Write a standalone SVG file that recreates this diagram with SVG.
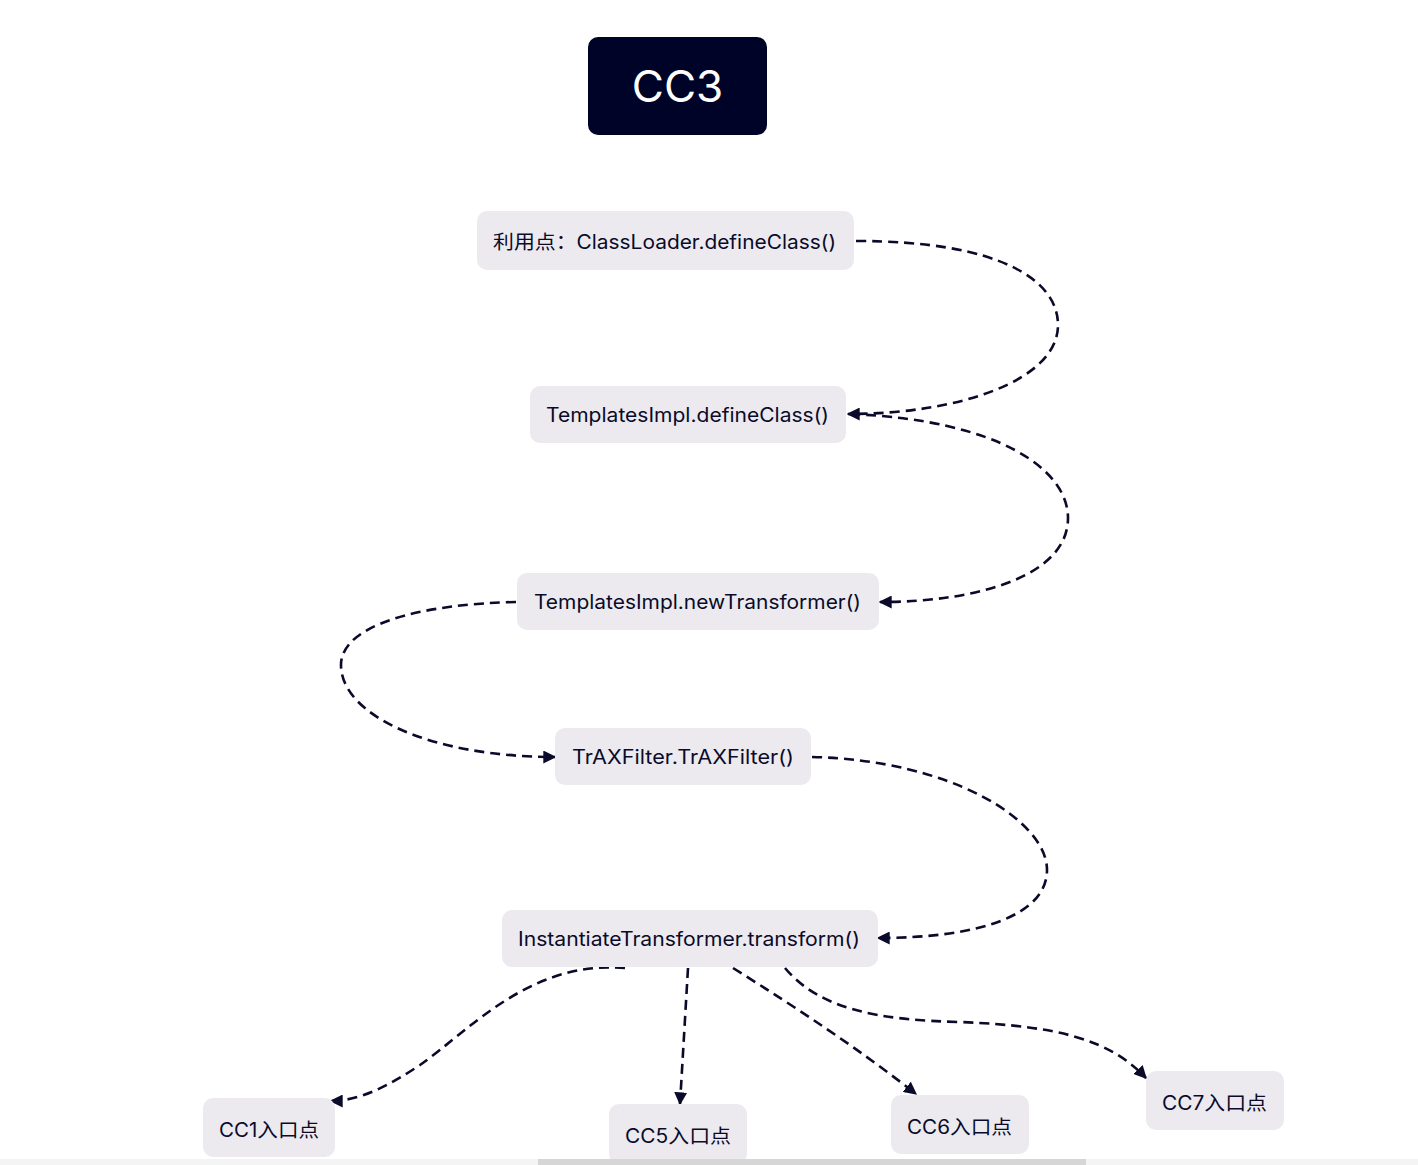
<svg xmlns="http://www.w3.org/2000/svg" width="1418" height="1165" viewBox="0 0 1418 1165">
<defs>
<style>
.box{fill:#ECEAEE;}
.lbl{font-family:"Inter","Noto Sans","Noto Sans CJK SC",sans-serif;font-size:19.5px;fill:#0A0A2A;}
.edge{fill:none;stroke:#0A0A2A;stroke-width:2.6;stroke-dasharray:10 6;}
</style>
<marker id="arr" viewBox="0 0 10 10" refX="9" refY="5" markerWidth="13" markerHeight="13" markerUnits="userSpaceOnUse" orient="auto">
<path d="M0,0 L10,5 L0,10 z" fill="#0A0A2A"/>
</marker>
</defs>
<rect width="1418" height="1165" fill="#FFFFFF"/>
<g id="title">
<rect x="588" y="37" width="179" height="98" rx="10" fill="#000328"/>
<text x="677.5" y="102" text-anchor="middle" font-family="Inter, 'Noto Sans', sans-serif" font-size="44" fill="#FFFFFF">CC3</text>
</g>
<g id="connectors">
<path class="edge" marker-end="url(#arr)" d="M856,241 C1000,241 1058,280 1058,325 C1058,380 960,414 848,414"/>
<path class="edge" marker-end="url(#arr)" d="M850,414 C1000,420 1068,470 1068,518 C1068,575 980,602 880,602"/>
<path class="edge" marker-end="url(#arr)" d="M516,602 C420,604 341,625 341,665 C341,715 430,757 555,757"/>
<path class="edge" marker-end="url(#arr)" d="M812,757 C950,760 1047,820 1047,870 C1047,915 980,938 878,938"/>
<path class="edge" marker-end="url(#arr)" d="M625,968 C530,960 470,1030 420,1065 C390,1085 360,1101 331,1101"/>
<path class="edge" marker-end="url(#arr)" d="M688,968 L680,1104"/>
<path class="edge" marker-end="url(#arr)" d="M733,968 C800,1010 860,1050 916,1094"/>
<path class="edge" marker-end="url(#arr)" d="M785,968 C820,1010 880,1020 960,1022 C1060,1026 1110,1040 1146,1078"/>
</g>
<g id="n1">
<rect class="box" x="477" y="211" width="377" height="59" rx="10"/>
<text class="lbl" x="493" y="249" textLength="343" lengthAdjust="spacingAndGlyphs">利用点：ClassLoader.defineClass()</text>
</g>
<g id="n2">
<rect class="box" x="530" y="386" width="316" height="57" rx="10"/>
<text class="lbl" x="546" y="422" textLength="283" lengthAdjust="spacingAndGlyphs">TemplatesImpl.defineClass()</text>
</g>
<g id="n3">
<rect class="box" x="517" y="573" width="362" height="57" rx="10"/>
<text class="lbl" x="534" y="609" textLength="327" lengthAdjust="spacingAndGlyphs">TemplatesImpl.newTransformer()</text>
</g>
<g id="n4">
<rect class="box" x="555" y="728" width="256" height="57" rx="10"/>
<text class="lbl" x="572" y="764" textLength="222" lengthAdjust="spacingAndGlyphs">TrAXFilter.TrAXFilter()</text>
</g>
<g id="n5">
<rect class="box" x="502" y="910" width="376" height="57" rx="10"/>
<text class="lbl" x="518" y="946" textLength="342" lengthAdjust="spacingAndGlyphs">InstantiateTransformer.transform()</text>
</g>
<g id="cc1">
<rect class="box" x="203" y="1098" width="132" height="59" rx="10"/>
<text class="lbl" x="219" y="1137" textLength="100" lengthAdjust="spacingAndGlyphs">CC1入口点</text>
</g>
<g id="cc5">
<rect class="box" x="609" y="1104" width="138" height="60" rx="10"/>
<text class="lbl" x="625" y="1143" textLength="106" lengthAdjust="spacingAndGlyphs">CC5入口点</text>
</g>
<g id="cc6">
<rect class="box" x="891" y="1095" width="138" height="59" rx="10"/>
<text class="lbl" x="907" y="1134" textLength="105" lengthAdjust="spacingAndGlyphs">CC6入口点</text>
</g>
<g id="cc7">
<rect class="box" x="1146" y="1071" width="138" height="59" rx="10"/>
<text class="lbl" x="1162" y="1110" textLength="105" lengthAdjust="spacingAndGlyphs">CC7入口点</text>
</g>
<rect x="0" y="1159" width="1418" height="6" fill="#F4F4F4"/>
<rect x="538" y="1159" width="548" height="6" fill="#D6D6D6"/>
</svg>
